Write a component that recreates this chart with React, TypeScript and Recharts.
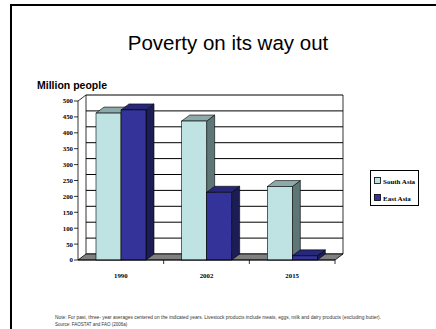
import { BarChart, Bar, XAxis, YAxis, CartesianGrid, ReferenceArea } from "recharts";

const categories = ['1990', '2002', '2015'];
const southAsia = [462, 437, 231];
const eastAsia = [472, 213, 13];
const yTicks = [0, 50, 100, 150, 200, 250, 300, 350, 400, 450, 500];
const seriesNames = ['South Asia', 'East Asia'];

const data = categories.map((year, i) => ({
    year,
    south: southAsia[i],
    east: eastAsia[i],
}));

// 3d depth of the plot
const DX = 8;
const DY = 6;
const PLOT_LEFT = 78;
const PLOT_RIGHT = 335;
const serif = "'Liberation Serif', 'Times New Roman', serif";
const sans = "'Liberation Sans', Arial, sans-serif";

const colors = {
    south: { front: '#BFE3E3', top: '#8DAAAA', side: '#5E7676' },
    east: { front: '#333399', top: '#28287A', side: '#1D1D55' },
};

const bar3d = (c: { front: string; top: string; side: string }) => (props: any) => {
    const { x, y, width, height } = props;
    if (!width || height == null) return <g />;
    const b = y + height;
    return (
        <g stroke="#000" strokeWidth={0.6}>
            <polygon
                points={`${x + width},${y} ${x + width + DX},${y - DY} ${x + width + DX},${b - DY} ${x + width},${b}`}
                fill={c.side}
            />
            <polygon
                points={`${x},${y} ${x + width},${y} ${x + width + DX},${y - DY} ${x + DX},${y - DY}`}
                fill={c.top}
            />
            <rect x={x} y={y} width={width} height={height} fill={c.front} />
        </g>
    );
};

const Walls = (props: any) => {
    const { x, y, width, height } = props;
    const b = y + height;
    return (
        <g stroke="#000" strokeWidth={0.8}>
            <polygon
                points={`${x},${b} ${x + width},${b} ${x + width + DX},${b - DY} ${x + DX},${b - DY}`}
                fill="#808080"
            />
            <line x1={x + DX} y1={y - DY} x2={x + DX} y2={b - DY} />
            <line x1={x + width + DX} y1={y - DY} x2={x + width + DX} y2={b - DY} />
            <line x1={x} y1={y} x2={x + DX} y2={y - DY} />
        </g>
    );
};

const gridLine = (props: any) => {
    const { x1, x2, y1, key } = props;
    return <line key={key} x1={x1 + DX} x2={x2 + DX} y1={y1 - DY} y2={y1 - DY} stroke="#000" strokeWidth={1} />;
};

const CategoryTick = (props: any) => {
    const { x, y, payload } = props;
    const half = (PLOT_RIGHT - PLOT_LEFT) / categories.length / 2;
    return (
        <g>
            <text x={x} y={y + 18} textAnchor="middle" fontFamily={serif} fontWeight="bold" fontSize={6.8} fill="#000">
                {payload.value}
            </text>
            <line x1={x + half} y1={y} x2={x + half} y2={y + 4} stroke="#000" strokeWidth={0.8} />
        </g>
    );
};

export default function App() {
    return (
        <div style={{ position: 'absolute', left: 0, top: 0, width: 436, height: 329, background: '#fff', overflow: 'hidden' }}>
            <svg width={436} height={329} style={{ position: 'absolute', left: 0, top: 0 }}>
                <line x1={11} y1={5} x2={436} y2={5} stroke="#000" strokeWidth={2} />
                <line x1={11} y1={4} x2={11} y2={329} stroke="#000" strokeWidth={2} />
                <text x={228} y={50} textAnchor="middle" fontFamily={sans} fontSize={20.5} fill="#000">
                    Poverty on its way out
                </text>
                <text x={37} y={89} fontFamily={sans} fontWeight="bold" fontSize={10.5} fill="#000">
                    Million people
                </text>
                <text x={55} y={319} fontFamily={sans} fontSize={4.5} fill="#333" textLength={326} lengthAdjust="spacingAndGlyphs">
                    Note: For past, three- year averages centered on the indicated years. Livestock products include meats, eggs, milk and dairy products (excluding butter).
                </text>
                <text x={55} y={326} fontFamily={sans} fontSize={4.5} fill="#333">
                    Source: FAOSTAT and FAO (2006a)
                </text>
                <g>
                    <rect x={370.5} y={170.5} width={48} height={35} fill="#fff" stroke="#000" strokeWidth={1} />
                    {seriesNames.map((name, i) => {
                        const c = i === 0 ? colors.south : colors.east;
                        const yy = 177 + i * 17;
                        return (
                            <g key={name}>
                                <rect x={374.5} y={yy + 0.5} width={6} height={6} fill={c.front} stroke="#000" strokeWidth={0.8} />
                                <text x={383} y={yy + 6.5} fontFamily={serif} fontWeight="bold" fontSize={7} fill="#000">
                                    {name}
                                </text>
                            </g>
                        );
                    })}
                </g>
            </svg>
            <div style={{ position: 'absolute', left: 0, top: 0 }}>
                <BarChart
                    width={436}
                    height={329}
                    data={data}
                    margin={{ top: 101, right: 436 - PLOT_RIGHT, bottom: 49, left: PLOT_LEFT - 30 }}
                    barCategoryGap={18}
                    barGap={0}
                >
                    <CartesianGrid vertical={false} horizontal={gridLine} />
                    <ReferenceArea y1={0} y2={500} shape={<Walls />} />
                    <XAxis
                        dataKey="year"
                        height={20}
                        tickLine={false}
                        tickSize={0}
                        tickMargin={0}
                        axisLine={{ stroke: '#000', strokeWidth: 0.8 }}
                        tick={<CategoryTick />}
                    />
                    <YAxis
                        width={30}
                        domain={[0, 500]}
                        ticks={yTicks}
                        interval={0}
                        tickSize={4}
                        tickMargin={1}
                        axisLine={{ stroke: '#000', strokeWidth: 0.8 }}
                        tickLine={{ stroke: '#000', strokeWidth: 0.8 }}
                        tick={{ fontFamily: serif, fontWeight: 'bold', fontSize: 6.8, fill: '#000' }}
                    />
                    <Bar dataKey="south" name="South Asia" isAnimationActive={false} shape={bar3d(colors.south)} />
                    <Bar dataKey="east" name="East Asia" isAnimationActive={false} shape={bar3d(colors.east)} />
                </BarChart>
            </div>
        </div>
    );
}
